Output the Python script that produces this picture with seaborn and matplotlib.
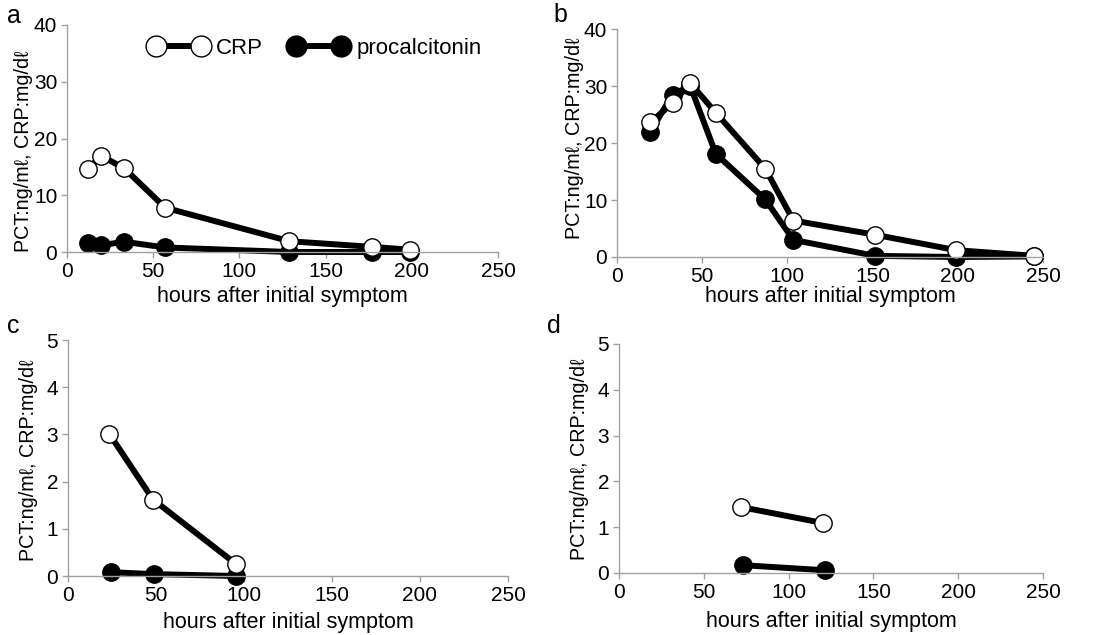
import numpy as np
import pandas as pd
import matplotlib
matplotlib.use("Agg")
import matplotlib.pyplot as plt
import seaborn as sns

sns.set_style("white")
plt.rcParams['font.family'] = ['Liberation Sans', 'DejaVu Sans']
plt.rcParams['text.color'] = 'black'
plt.rcParams['axes.labelcolor'] = 'black'
plt.rcParams['xtick.labelcolor'] = 'black'
plt.rcParams['ytick.labelcolor'] = 'black'

# panel a
a_crp_h = [12, 20, 33, 57, 129, 177, 199]
a_crp = [14.7, 16.9, 14.8, 7.8, 1.9, 0.9, 0.4]
a_pct_h = [12, 20, 33, 57, 129, 177, 199]
a_pct = [1.6, 1.2, 1.8, 0.8, 0.0, 0.0, 0.0]

# panel b
b_crp_h = [19.5, 32.6, 43, 58, 87, 103.5, 151.5, 199, 245]
b_crp = [23.6, 27.0, 30.5, 25.3, 15.5, 6.4, 3.9, 1.2, 0.2]
b_pct_h = [19.5, 32.6, 43, 58, 87, 103.5, 151.5, 199, 245]
b_pct = [21.9, 28.5, 30.0, 18.1, 10.1, 3.0, 0.2, 0.0, 0.1]

# panel c
c_crp_h = [23.5, 48.3, 95.6]
c_crp = [3.01, 1.62, 0.25]
c_pct_h = [24.6, 48.7, 95.6]
c_pct = [0.08, 0.04, 0.0]

# panel d
d_crp_h = [72, 120.5]
d_crp = [1.44, 1.09]
d_pct_h = [73.3, 121.4]
d_pct = [0.17, 0.06]

panels = [
    ("a", a_crp_h, a_crp, a_pct_h, a_pct, 40, [0, 10, 20, 30, 40]),
    ("b", b_crp_h, b_crp, b_pct_h, b_pct, 40, [0, 10, 20, 30, 40]),
    ("c", c_crp_h, c_crp, c_pct_h, c_pct, 5, [0, 1, 2, 3, 4, 5]),
    ("d", d_crp_h, d_crp, d_pct_h, d_pct, 5, [0, 1, 2, 3, 4, 5]),
]

W, H = 1095, 635
# axes boxes in pixels: left, right, top, bottom
boxes = {
    "a": (67, 498, 25, 252),
    "b": (617, 1043, 29, 257),
    "c": (68, 508, 340, 576),
    "d": (619, 1043, 344, 573),
}
letter_pos = {"a": (7, 23), "b": (553, 22), "c": (7, 333), "d": (547, 333)}
ylab_y = {"a": 0.445, "b": 0.52, "c": 0.49, "d": 0.495}
ylab_off = {"a": 34, "b": 33, "c": 30, "d": 30}
xlab_pad = {"a": 4, "b": 0, "c": 5, "d": 7}

fig = plt.figure(figsize=(W / 100, H / 100), dpi=100)
gray = "#a0a0a0"

for name, ch, cv, ph, pv, ymax, yt in panels:
    l, r, t, b = boxes[name]
    ax = fig.add_axes([l / W, 1 - b / H, (r - l) / W, (b - t) / H])
    df_p = pd.DataFrame({"h": ph, "v": pv})
    df_c = pd.DataFrame({"h": ch, "v": cv})
    sns.lineplot(data=df_p, x="h", y="v", ax=ax, color="black", lw=4.3,
                 marker="o", markersize=12.5, markerfacecolor="black",
                 markeredgecolor="black", markeredgewidth=1,
                 label="procalcitonin", clip_on=False)
    sns.lineplot(data=df_c, x="h", y="v", ax=ax, color="black", lw=4.3,
                 marker="o", markersize=12.5, markerfacecolor="white",
                 markeredgecolor="black", markeredgewidth=1,
                 label="CRP", clip_on=False)
    ax.set_xlim(0, 250)
    ax.set_ylim(0, ymax)
    ax.set_xticks([0, 50, 100, 150, 200, 250])
    ax.set_yticks(yt)
    for s in ["top", "right"]:
        ax.spines[s].set_visible(False)
    for s in ["left", "bottom"]:
        ax.spines[s].set_color(gray)
        ax.spines[s].set_linewidth(1)
    ax.tick_params(axis="both", direction="out", length=4, width=1,
                   color=gray, labelsize=15, pad=3, left=True, bottom=True)
    ax.set_xlabel("hours after initial symptom", fontsize=15.5,
                  labelpad=xlab_pad[name])
    ax.set_ylabel("PCT:ng/mℓ, CRP:mg/dℓ", fontsize=14.2)
    ax.yaxis.set_label_coords(-ylab_off[name] / (r - l), ylab_y[name])
    if name == "a":
        hd, lb = ax.get_legend_handles_labels()
        ax.legend([hd[1], hd[0]], [lb[1], lb[0]], loc="upper left",
                  bbox_to_anchor=(0.145, 1.03), ncol=2, frameon=False,
                  numpoints=2, handlelength=2.6, fontsize=16,
                  markerscale=1.2, columnspacing=1.2, handletextpad=0.4)
    else:
        ax.get_legend().remove()
    lx, ly = letter_pos[name]
    fig.text(lx / W, 1 - ly / H, name, fontsize=18, va="baseline", ha="left")

fig.savefig("out.png", dpi=100)
